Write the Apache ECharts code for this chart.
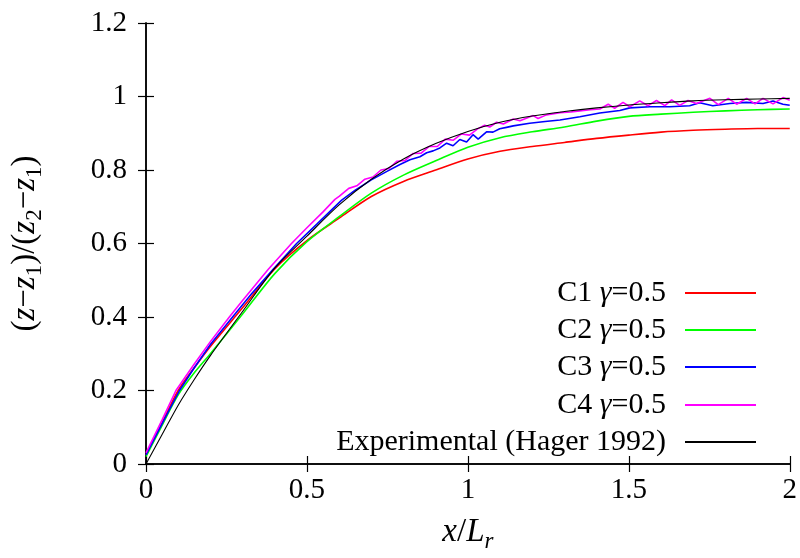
<!DOCTYPE html>
<html>
<head>
<meta charset="utf-8">
<script src="https://cdn.jsdelivr.net/npm/echarts@6/dist/echarts.min.js"></script>
<style>
html,body{margin:0;padding:0;background:#fff;}
#chart{width:800px;height:558px;}
</style>
</head>
<body>
<div id="chart"></div>
<script>
// ---- data ----
const xTicks = [0, 0.5, 1, 1.5, 2];
const yTicks = [0, 0.2, 0.4, 0.6, 0.8, 1, 1.2];

const seriesNames = ['C1 γ=0.5', 'C2 γ=0.5', 'C3 γ=0.5', 'C4 γ=0.5', 'Experimental (Hager 1992)'];

const c1X = [0,0.05,0.1,0.15,0.2,0.3,0.4,0.5,0.6,0.7,0.8,0.9,1.0,1.1,1.2,1.3,1.4,1.5,1.6,1.7,1.8,1.9,2.0];
const c1Y = [0.025,0.112,0.2,0.262,0.32,0.425,0.531,0.608,0.669,0.728,0.769,0.80,0.83,0.851,0.864,0.875,0.886,0.895,0.903,0.908,0.911,0.913,0.913];

const c2X = [0,0.05,0.1,0.15,0.2,0.3,0.4,0.5,0.6,0.7,0.8,0.9,1.0,1.1,1.2,1.3,1.4,1.5,1.6,1.7,1.8,1.9,2.0];
const c2Y = [0.02,0.105,0.188,0.248,0.30,0.408,0.518,0.605,0.673,0.737,0.786,0.825,0.862,0.888,0.904,0.917,0.933,0.946,0.952,0.957,0.961,0.964,0.966];

const c3X = [0,0.05,0.104,0.15,0.2,0.269,0.33,0.395,0.468,0.53,0.608,0.65,0.7,0.75,0.789,0.82,0.851,0.872,0.892,0.913,0.934,0.954,0.975,0.996,1.016,1.032,1.058,1.078,1.099,1.12,1.141,1.192,1.24,1.286,1.348,1.41,1.472,1.503,1.565,1.627,1.689,1.72,1.761,1.814,1.865,1.917,1.948,1.979,2.0];
const c3Y = [0.025,0.11,0.2,0.262,0.325,0.4,0.465,0.53,0.6,0.652,0.718,0.745,0.773,0.797,0.815,0.828,0.836,0.847,0.852,0.86,0.873,0.866,0.883,0.876,0.896,0.884,0.904,0.903,0.912,0.916,0.92,0.927,0.932,0.936,0.945,0.955,0.962,0.969,0.972,0.972,0.975,0.983,0.975,0.981,0.984,0.981,0.988,0.979,0.976];

const c4X = [0,0.05,0.093,0.15,0.2,0.259,0.3,0.38,0.452,0.5,0.55,0.587,0.6,0.63,0.655,0.68,0.705,0.73,0.755,0.78,0.805,0.83,0.855,0.88,0.905,0.93,0.955,0.98,1.005,1.03,1.052,1.068,1.089,1.11,1.141,1.162,1.203,1.218,1.244,1.286,1.32,1.348,1.38,1.41,1.436,1.456,1.482,1.503,1.534,1.56,1.586,1.612,1.633,1.658,1.684,1.71,1.752,1.778,1.809,1.835,1.866,1.892,1.917,1.948,1.979,2.0];
const c4Y = [0.03,0.12,0.2,0.272,0.333,0.4,0.445,0.53,0.6,0.643,0.686,0.72,0.728,0.75,0.757,0.775,0.781,0.8,0.804,0.824,0.826,0.845,0.846,0.864,0.864,0.884,0.881,0.898,0.895,0.912,0.922,0.917,0.93,0.925,0.939,0.934,0.948,0.94,0.95,0.956,0.958,0.961,0.964,0.966,0.979,0.968,0.984,0.972,0.988,0.975,0.989,0.975,0.991,0.976,0.989,0.981,0.995,0.978,0.995,0.979,0.995,0.98,0.995,0.98,0.997,0.99];

const expX = [0,0.05,0.1,0.15,0.2,0.3,0.4,0.5,0.6,0.7,0.8,0.9,1.0,1.1,1.2,1.3,1.4,1.5,1.6,1.7,1.8,1.9,2.0];
const expY = [0,0.08,0.16,0.23,0.295,0.415,0.533,0.62,0.705,0.775,0.83,0.872,0.905,0.93,0.947,0.959,0.969,0.977,0.983,0.988,0.991,0.993,0.995];

const colors = ['#ff0000', '#00ff00', '#0000ff', '#ff00ff', '#000000'];
// ---------------------------------------

const FONT = '"Liberation Serif", "DejaVu Serif", serif';
const FS = 29;     // tick labels
const LFS = 30;    // legend
const NFS = 33;    // axis names

function pairs(xs, ys) { return xs.map((x, i) => [x, ys[i]]); }

const seriesData = [pairs(c1X, c1Y), pairs(c2X, c2Y), pairs(c3X, c3Y), pairs(c4X, c4Y), pairs(expX, expY)];
const smoothFlags = [true, true, false, false, true];
const widths = [1.6, 1.6, 1.6, 1.6, 1.1];

function makeRich(fs) {
  const sub = Math.round(fs * 0.7);
  return {
    n: { fontFamily: FONT, fontSize: fs, color: '#000', lineHeight: fs + 8 },
    i: { fontFamily: FONT, fontSize: fs, fontStyle: 'italic', color: '#000', lineHeight: fs + 8 },
    s: { fontFamily: FONT, fontSize: sub, color: '#000', lineHeight: sub, verticalAlign: 'bottom' },
    si: { fontFamily: FONT, fontSize: sub, fontStyle: 'italic', color: '#000', lineHeight: sub, verticalAlign: 'bottom' }
  };
}
const legendRich = makeRich(LFS);
const nameRich = makeRich(NFS);

function legendLabel(name) {
  const m = name.match(/^(C\d) γ=(.*)$/);
  if (m) return '{n|' + m[1] + ' }{i|γ}{n|=' + m[2] + '}';
  return '{n|' + name + '}';
}

const rowY = [297, 334, 371, 409, 446];
const legends = seriesNames.map((nm, k) => ({
  data: [nm],
  orient: 'vertical',
  right: 43,
  top: rowY[k] - (LFS + 8) / 2,
  align: 'right',
  padding: 0,
  itemWidth: 71,
  itemHeight: 2,
  selectedMode: false,
  formatter: legendLabel,
  textStyle: { fontFamily: FONT, fontSize: LFS, color: '#000', padding: [0, 14, 0, 0], rich: legendRich }
}));

const axisCommon = {
  type: 'value',
  axisLine: { show: true, lineStyle: { color: '#000', width: 1.5 } },
  axisTick: { show: true, inside: true, length: 8, lineStyle: { color: '#000', width: 1.2 } },
  splitLine: { show: false }
};

const option = {
  animation: false,
  backgroundColor: '#fff',
  grid: { left: 146, right: 10, top: 23, bottom: 85, containLabel: false },
  legend: legends,
  xAxis: [
    Object.assign({}, axisCommon, {
      min: xTicks[0], max: xTicks[xTicks.length - 1], interval: xTicks[1] - xTicks[0],
      position: 'bottom',
      axisLabel: { show: true, margin: 12, fontFamily: FONT, fontSize: FS, color: '#000' },
      name: '{i|x}{n|/}{i|L}{si|r}',
      nameLocation: 'middle', nameGap: 48,
      nameTextStyle: { rich: nameRich }
    }),
    Object.assign({}, axisCommon, {
      min: xTicks[0], max: xTicks[xTicks.length - 1], interval: xTicks[1] - xTicks[0],
      position: 'top', axisLabel: { show: false }
    })
  ],
  yAxis: [
    Object.assign({}, axisCommon, {
      min: yTicks[0], max: yTicks[yTicks.length - 1], interval: yTicks[1] - yTicks[0],
      position: 'left',
      axisLabel: { show: true, margin: 19, fontFamily: FONT, fontSize: FS, color: '#000' },
      name: '{n|(}{i|z}{n|−}{i|z}{s|1}{n|)/(}{i|z}{s|2}{n|−}{i|z}{s|1}{n|)}',
      nameLocation: 'middle', nameGap: 100, nameRotate: 90,
      nameTextStyle: { rich: nameRich }
    }),
    Object.assign({}, axisCommon, {
      min: yTicks[0], max: yTicks[yTicks.length - 1], interval: yTicks[1] - yTicks[0],
      position: 'right', axisLabel: { show: false }
    })
  ],
  series: seriesNames.map((nm, k) => ({
    name: nm,
    type: 'line',
    data: seriesData[k],
    xAxisIndex: 0,
    yAxisIndex: 0,
    symbol: 'none',
    showSymbol: false,
    smooth: smoothFlags[k] ? 0.3 : false,
    color: colors[k],
    lineStyle: { color: colors[k], width: widths[k] },
    z: 2 + k
  }))
};

const chart = echarts.init(document.getElementById('chart'), null, { renderer: 'canvas' });
chart.setOption(option);
</script>
</body>
</html>
